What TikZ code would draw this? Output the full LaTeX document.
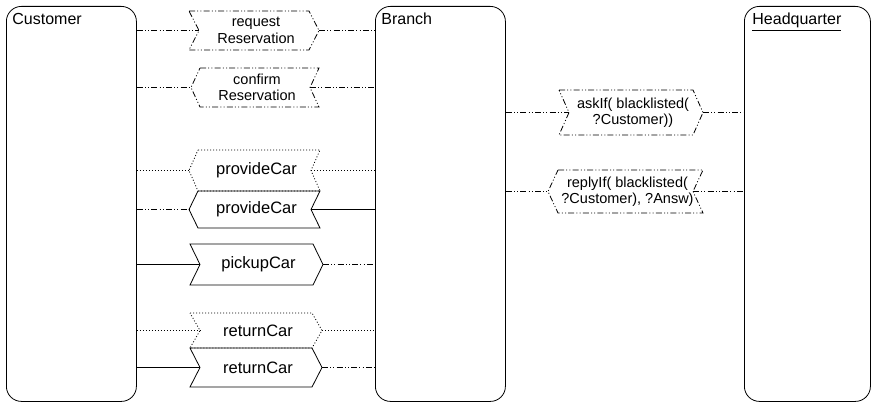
\documentclass[tikz,border=0pt]{standalone}
\usepackage{fontspec}
\setmainfont{Liberation Sans}
\usetikzlibrary{calc}
\newcommand{\msgR}[9]{% name, x1, x2, ytop, ybot, depth, style, text, node options
  \draw[#7] (#2,#4) -- (#3-#6,#4) -- (#3,{(#4+#5)/2}) -- (#3-#6,#5) -- (#2,#5) -- (#2+#6,{(#4+#5)/2}) -- cycle;
  \node[msgtext,#9] (#1) at ({(#2+#3)/2+2},{(#4+#5)/2}) {#8};
  \coordinate (#1-l) at (#2+#6,{(#4+#5)/2});
  \coordinate (#1-r) at (#3,{(#4+#5)/2});
}
\newcommand{\msgL}[9]{% name, x1, x2, ytop, ybot, depth, style, text, node options
  \draw[#7] (#2+#6,#4) -- (#3,#4) -- (#3-#6,{(#4+#5)/2}) -- (#3,#5) -- (#2+#6,#5) -- (#2,{(#4+#5)/2}) -- cycle;
  \node[msgtext,#9] (#1) at ({(#2+#3)/2+2},{(#4+#5)/2}) {#8};
  \coordinate (#1-l) at (#2,{(#4+#5)/2});
  \coordinate (#1-r) at (#3-#6,{(#4+#5)/2});
}
\begin{document}
\begin{tikzpicture}[x=1pt,y=-1pt,line width=0.8pt,
  lane/.style={draw,rounded corners=15pt,anchor=north west,inner sep=0pt,minimum width=130pt,minimum height=395pt},
  lanelabel/.style={anchor=north west,inner sep=0pt,font=\fontsize{16}{18}\selectfont},
  msgtext/.style={align=center,inner sep=0pt,font=\fontsize{16.5}{18}\selectfont},
  twoline/.style={font=\fontsize{14.5}{16.5}\selectfont},
  oneline/.style={},
  ddot/.style={dash pattern=on 6pt off 2.2pt on 1pt off 2.2pt on 1pt off 2.2pt},
  dotline/.style={dash pattern=on 1pt off 2pt},
  solidline/.style={solid}]
\useasboundingbox (0,0) rectangle (872,403);
\node[lane] (cust) at (6,6) {};
\node[lane] (branch) at (375,6) {};
\node[lane,minimum width=126pt] (hq) at (744,6) {};
\node[lanelabel] (custlbl) at (12,13) {Customer};
\node[lanelabel] (branchlbl) at (381,13) {Branch};
\node[lanelabel] (hqlbl) at (752,13) {\underline{Headquarter}};

\msgR{req}{189}{319}{11}{50}{10}{ddot}{request\\Reservation}{twoline}
\msgL{conf}{191}{319}{68}{107}{9}{ddot}{confirm\\Reservation}{twoline}
\msgL{provd}{189}{320}{150}{191}{9}{dotline}{provideCar}{oneline}
\msgL{provs}{189}{320}{191}{228}{9}{solidline}{provideCar}{oneline}
\msgR{pick}{190}{323}{244}{285}{10}{solidline}{pickupCar}{oneline}
\msgR{retd}{190}{322}{313}{348}{10}{dotline}{returnCar}{oneline}
\msgR{rets}{190}{322}{348}{387}{10}{solidline}{returnCar}{oneline}
\msgR{ask}{559}{703}{90}{135}{10}{ddot}{askIf( blacklisted(\\?Customer))}{twoline}
\msgL{reply}{548}{703}{170}{213}{10}{ddot}{replyIf( blacklisted(\\?Customer), ?Answ)}{twoline}

\draw[ddot] (cust.east |- req-l) -- (req-l);
\draw[ddot] (req-r) -- (branch.west |- req-r);
\draw[ddot] (cust.east |- conf-l) -- (conf-l);
\draw[ddot] (conf-r) -- (branch.west |- conf-r);
\draw[dotline] (cust.east |- provd-l) -- (provd-l);
\draw[dotline] (provd-r) -- (branch.west |- provd-r);
\draw[ddot] (cust.east |- provs-l) -- (provs-l);
\draw (provs-r) -- (branch.west |- provs-r);
\draw (cust.east |- pick-l) -- (pick-l);
\draw[ddot] (pick-r) -- (branch.west |- pick-r);
\draw[dotline] (cust.east |- retd-l) -- (retd-l);
\draw[dotline] (retd-r) -- (branch.west |- retd-r);
\draw (cust.east |- rets-l) -- (rets-l);
\draw[ddot] (rets-r) -- (branch.west |- rets-r);
\draw[ddot] (branch.east |- ask-l) -- (ask-l);
\draw[ddot] (ask-r) -- (hq.west |- ask-r);
\draw[ddot] (branch.east |- reply-l) -- (reply-l);
\draw[ddot] (reply-r) -- (hq.west |- reply-r);
\end{tikzpicture}
\end{document}
